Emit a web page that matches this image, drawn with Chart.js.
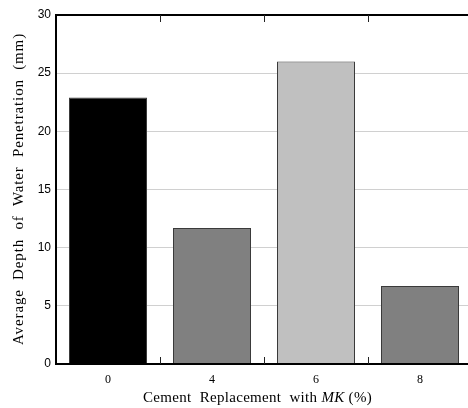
<!DOCTYPE html>
<html>
<head>
<meta charset="utf-8">
<script src="https://cdn.jsdelivr.net/npm/chart.js@4"></script>
<style>
  body { margin: 0; overflow: hidden; background: #fff; }
  #wrap { width: 472px; height: 408px; }
</style>
</head>
<body>
<div id="wrap"><canvas id="chart"></canvas></div>
<script>
// data
const categories = ['0', '4', '6', '8'];
const depthValues = [22.9, 11.7, 26.0, 6.7];
const barColors = ['#000000', '#808080', '#c0c0c0', '#808080'];
const yTicks = [0, 5, 10, 15, 20, 25, 30];

const serif = '"Liberation Serif", "Times New Roman", serif';
const narrow = '"Liberation Sans Narrow", "Liberation Sans", sans-serif';

// draws text so that it fills a given width
function fitText(ctx, parts, x0, y, width) {
    let plain = 0, chars = 0;
    ctx.letterSpacing = '0px';
    parts.forEach(p => {
        ctx.font = p[1] + ' 15px ' + serif;
        plain += ctx.measureText(p[0]).width;
        chars += p[0].length;
    });
    const sp = (width - plain) / chars;
    ctx.letterSpacing = sp + 'px';
    let x = x0;
    parts.forEach(p => {
        ctx.font = p[1] + ' 15px ' + serif;
        ctx.fillText(p[0], x, y);
        x += ctx.measureText(p[0]).width;
    });
}

// frame, inner ticks and axis titles
const framePlugin = {
    id: 'frame',
    afterDraw(chart) {
        const ctx = chart.ctx;
        const a = chart.chartArea;
        const xs = chart.scales.x;
        ctx.save();
        ctx.strokeStyle = '#000';
        ctx.lineWidth = 2;
        ctx.beginPath();
        ctx.moveTo(a.right, a.top);
        ctx.lineTo(a.left, a.top);
        ctx.lineTo(a.left, a.bottom);
        ctx.lineTo(a.right, a.bottom);
        ctx.stroke();

        // short ticks between categories, top and bottom
        ctx.lineWidth = 1;
        ctx.strokeStyle = '#222';
        for (let i = 1; i < categories.length; i++) {
            const x = Math.round((xs.getPixelForValue(i - 1) + xs.getPixelForValue(i)) / 2) + 0.5;
            ctx.beginPath();
            ctx.moveTo(x, a.bottom);
            ctx.lineTo(x, a.bottom - 7);
            ctx.moveTo(x, a.top);
            ctx.lineTo(x, a.top + 7);
            ctx.stroke();
        }

        ctx.fillStyle = '#000';
        ctx.textBaseline = 'middle';
        ctx.textAlign = 'left';

        // x title with italic MK
        fitText(ctx, [
            ['Cement  Replacement  with ', 'normal'],
            ['MK', 'italic'],
            [' (%)', 'normal']
        ], 143, 398, 229);

        // y title
        ctx.translate(19, 345);
        ctx.rotate(-Math.PI / 2);
        fitText(ctx, [['Average  Depth  of  Water  Penetration  (mm)', 'normal']], 0, 0, 312);
        ctx.restore();
    }
};

new Chart(document.getElementById('chart'), {
    type: 'bar',
    data: {
        labels: categories,
        datasets: [{
            data: depthValues,
            backgroundColor: barColors,
            borderColor: '#3a3a3a',
            borderWidth: 1,
            categoryPercentage: 1,
            barPercentage: 0.75
        }]
    },
    options: {
        responsive: true,
        maintainAspectRatio: false,
        animation: false,
        layout: { padding: { top: 15, left: 0, right: 0, bottom: 0 } },
        plugins: {
            legend: { display: false },
            tooltip: { enabled: false }
        },
        scales: {
            x: {
                grid: { display: false },
                border: { display: false },
                ticks: {
                    color: '#000',
                    padding: 1,
                    font: { family: serif, size: 12 }
                },
                afterFit(scale) { scale.height = 44; }
            },
            y: {
                min: 0,
                max: 30,
                afterBuildTicks(scale) {
                    scale.ticks = yTicks.map(v => ({ value: v }));
                },
                grid: {
                    color: ctx => (ctx.tick && (ctx.tick.value === 0 || ctx.tick.value === 30)) ? 'rgba(0,0,0,0)' : '#d0d0d0',
                    drawTicks: false
                },
                border: { display: false },
                ticks: {
                    color: '#000',
                    padding: 5,
                    font: { family: narrow, size: 12 }
                },
                afterFit(scale) { scale.width = 56; }
            }
        }
    },
    plugins: [framePlugin]
});
</script>
</body>
</html>
